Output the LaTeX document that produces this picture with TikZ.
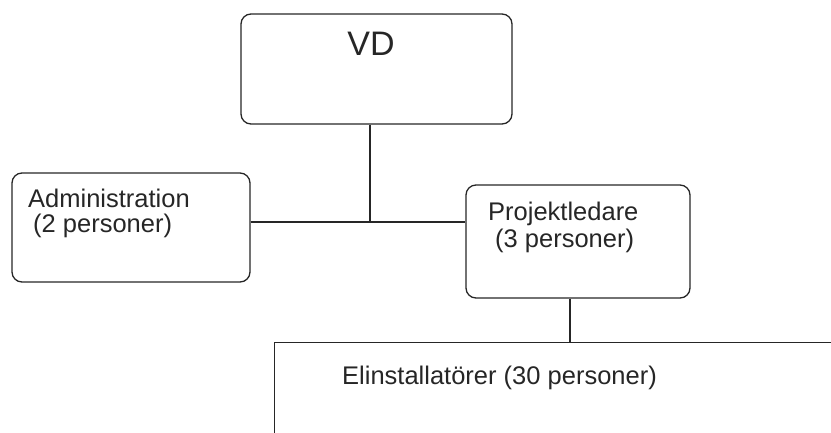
\documentclass[tikz,border=0pt]{standalone}
\usepackage{fontspec}
\setmainfont{Liberation Sans}
\tikzset{
  box/.style={draw=black!85, line width=1.3pt, rounded corners=10pt, inner sep=0pt},
  conn/.style={draw=black!85, line width=1.3pt},
  txt/.style={anchor=base west, inner sep=0pt, text=black!85, font=\fontsize{25.5}{25.5}\selectfont}
}
\begin{document}
\begin{tikzpicture}[x=1pt,y=-1pt]
  \clip (0,0) rectangle (831,432);
  \node[box, minimum width=271pt, minimum height=110pt] (vd) at (376.5,69) {};
  \node[box, minimum width=238pt, minimum height=109pt] (adm) at (131,227.5) {};
  \node[box, minimum width=224pt, minimum height=113pt] (proj) at (578,241.5) {};
  \node[box, rounded corners=0pt, anchor=north west, minimum width=700pt, minimum height=200pt] (elin) at (274,342) {};
  \node[txt, anchor=base, font=\fontsize{34}{34}\selectfont] (vdtxt) at (371,55) {VD};
  \node[txt] (admtxt) at (28,207) {Administration};
  \node[txt] (admnum) at (33,232) {(2 personer)};
  \node[txt] (projtxt) at (488,220) {Projektledare};
  \node[txt] (projnum) at (495,247) {(3 personer)};
  \node[txt] (elintxt) at (342,384) {Elinstallatörer (30 personer)};
  \coordinate (hub) at (370,222);
  \coordinate (drop) at (570,342);
  \draw[conn] (vd.south -| hub) -- (hub);
  \draw[conn] (adm.east |- hub) -- (proj.west |- hub);
  \draw[conn] (proj.south -| drop) -- (elin.north -| drop);
\end{tikzpicture}
\end{document}
